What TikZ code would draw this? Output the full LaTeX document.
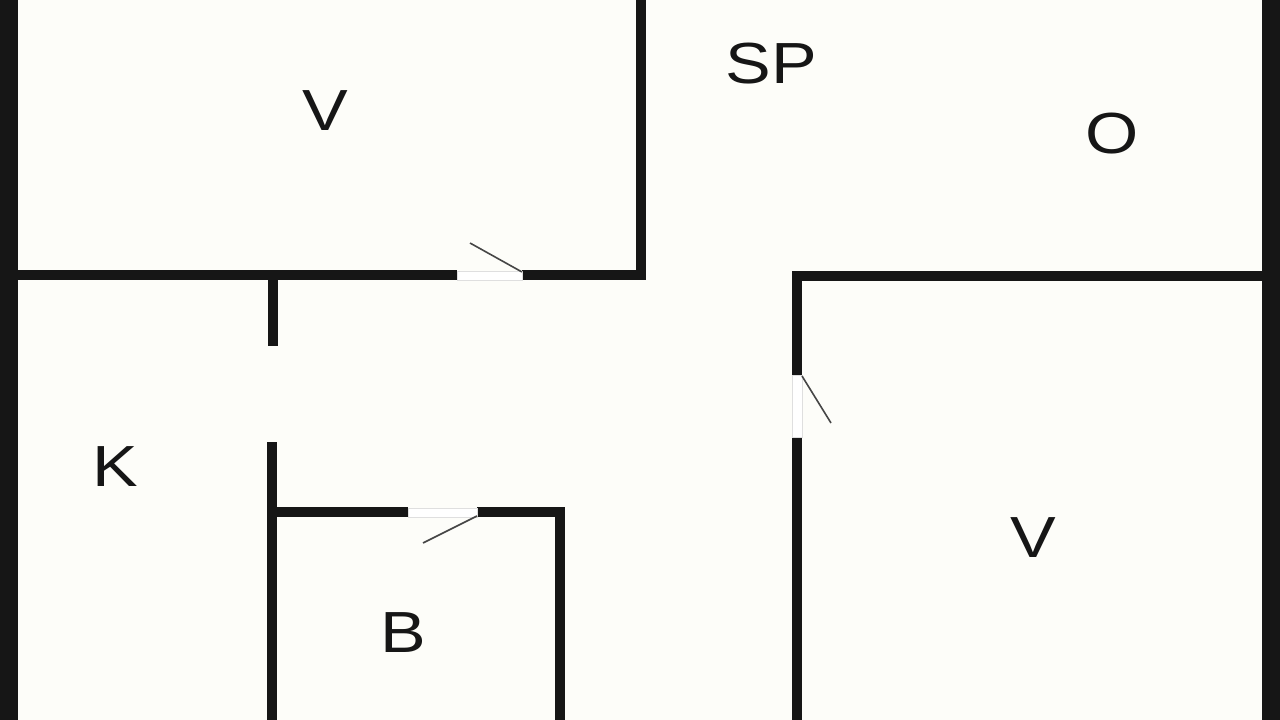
\documentclass[tikz,border=0pt]{standalone}
\usepackage{fontspec}
\setmainfont{Liberation Sans}
\definecolor{bg}{RGB}{253,253,249}
\definecolor{wall}{RGB}{22,22,22}
\definecolor{leaf}{RGB}{70,70,70}
\begin{document}
\begin{tikzpicture}[x=1pt,y=-1pt,
  wallline/.style={draw=wall,line width=10pt,line join=miter,line cap=butt},
  gap/.style={fill=white,draw=gray!25,line width=0.8pt},
  doorleaf/.style={draw=leaf,line width=1.6pt},
  roomlabel/.style={font=\fontsize{58}{60}\selectfont,text=wall,inner sep=0pt,xscale=1.18}]
\useasboundingbox (0,0) rectangle (1280,720);
\fill[bg] (0,0) rectangle (1280,720);
% outer walls
\fill[wall] (0,0) rectangle (18,720);
\fill[wall] (1262,0) rectangle (1280,720);
% top-left room
\draw[wallline] (18,275) -- (457,275);
\draw[wallline] (522,275) -- (641,275) -- (641,0);
% kitchen stub
\draw[wallline,line width=9.5pt] (273,279) -- (273,346);
% bathroom
\draw[wallline,line width=9.5pt] (272,442) -- (272,720);
\draw[wallline,line width=9.5pt] (272,512) -- (408,512);
\draw[wallline,line width=9.5pt] (477,512) -- (560,512) -- (560,720);
% right room
\draw[wallline] (797,375) -- (797,276) -- (1262,276);
\draw[wallline] (797,437) -- (797,720);
% door gaps
\draw[gap] (457,271) rectangle (522,280);
\draw[gap] (792,375) rectangle (802,437);
\draw[gap] (408,508) rectangle (477,517);
% door leaves
\draw[doorleaf] (522,272) -- (470,243);
\draw[doorleaf] (802,376) -- (831,423);
\draw[doorleaf] (477,516) -- (423,543);
% labels
\node[roomlabel] (v1) at (325,111) {V};
\node[roomlabel] (sp) at (771,64) {SP};
\node[roomlabel] (o) at (1112,134) {O};
\node[roomlabel] (k) at (115,467) {K};
\node[roomlabel] (b) at (403,633) {B};
\node[roomlabel] (v2) at (1033,538) {V};
\end{tikzpicture}
\end{document}
